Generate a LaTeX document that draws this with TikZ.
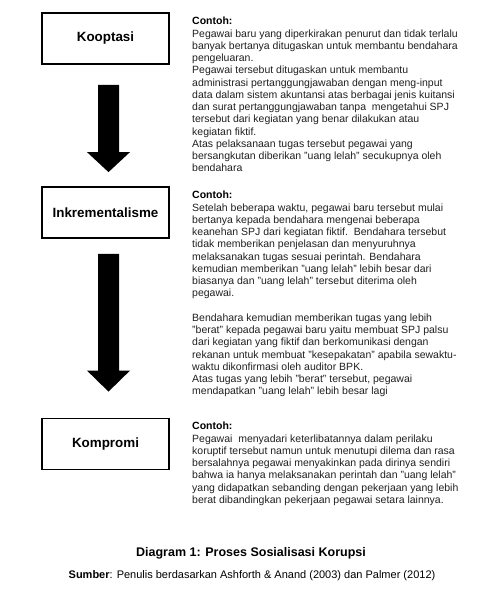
\documentclass[tikz,border=0pt]{standalone}
\usepackage{fontspec}
\setmainfont{Liberation Sans}
\usetikzlibrary{calc}
\begin{document}
\begin{tikzpicture}[x=1pt,y=1pt,
  stage/.style={draw=black, line width=1.8pt, minimum width=127pt, minimum height=51pt,
    inner sep=0pt, font=\fontsize{13.4}{16}\selectfont\bfseries},
  desc/.style={anchor=north west, align=left, inner sep=0pt,
    font=\fontsize{10.5}{12.25}\selectfont, text=black!87},
  bigarrow/.style={fill=black}]
\useasboundingbox (0,0) rectangle (497,-594);
\fill[white] (0,0) rectangle (497,-594);

\node[stage] (koop) at (105.5,-38.5) {Kooptasi};
\node[stage] (inkr) at (105.5,-212.5) {Inkrementalisme};
\node[stage] (komp) at (105.5,-444) {Kompromi};

% arrow 1
\coordinate (a1top) at ($(koop.south)+(3,-20)$);
\coordinate (a1tip) at ($(inkr.north)+(3,14)$);
\fill[bigarrow] ($(a1top)+(-10.5,0)$) -- ($(a1tip)+(-10.5,20)$) -- ($(a1tip)+(-21.5,20)$)
  -- (a1tip) -- ($(a1tip)+(21.5,20)$) -- ($(a1tip)+(10.5,20)$) -- ($(a1top)+(10.5,0)$) -- cycle;
% arrow 2
\coordinate (a2top) at ($(inkr.south)+(3,-15)$);
\coordinate (a2tip) at ($(komp.north)+(3,26)$);
\fill[bigarrow] ($(a2top)+(-10.5,0)$) -- ($(a2tip)+(-10.5,21)$) -- ($(a2tip)+(-21.5,21)$)
  -- (a2tip) -- ($(a2tip)+(21.5,21)$) -- ($(a2tip)+(10.5,21)$) -- ($(a2top)+(10.5,0)$) -- cycle;

\node[desc] (t1) at (192,-17) {\textbf{\color{black}Contoh:}\\
Pegawai baru yang diperkirakan penurut dan tidak terlalu\\
banyak bertanya ditugaskan untuk membantu bendahara\\
pengeluaran.\\
Pegawai tersebut ditugaskan untuk membantu\\
administrasi pertanggungjawaban dengan meng-input\\
data dalam sistem akuntansi atas berbagai jenis kuitansi\\
dan surat pertanggungjawaban tanpa\ \ mengetahui SPJ\\
tersebut dari kegiatan yang benar dilakukan atau\\
kegiatan fiktif.\\
Atas pelaksanaan tugas tersebut pegawai yang\\
bersangkutan diberikan "uang lelah" secukupnya oleh\\
bendahara};

\node[desc] (t2) at (192,-191) {\textbf{\color{black}Contoh:}\\
Setelah beberapa waktu, pegawai baru tersebut mulai\\
bertanya kepada bendahara mengenai beberapa\\
keanehan SPJ dari kegiatan fiktif.\ \ Bendahara tersebut\\
tidak memberikan penjelasan dan menyuruhnya\\
melaksanakan tugas sesuai perintah. Bendahara\\
kemudian memberikan "uang lelah" lebih besar dari\\
biasanya dan "uang lelah" tersebut diterima oleh\\
pegawai.\\
\mbox{}\\
Bendahara kemudian memberikan tugas yang lebih\\
"berat" kepada pegawai baru yaitu membuat SPJ palsu\\
dari kegiatan yang fiktif dan berkomunikasi dengan\\
rekanan untuk membuat "kesepakatan" apabila sewaktu-\\
waktu dikonfirmasi oleh auditor BPK.\\
Atas tugas yang lebih "berat" tersebut, pegawai\\
mendapatkan "uang lelah" lebih besar lagi};

\node[desc] (t3) at (192,-422) {\textbf{\color{black}Contoh:}\\
Pegawai\ \ menyadari keterlibatannya dalam perilaku\\
koruptif tersebut namun untuk menutupi dilema dan rasa\\
bersalahnya pegawai menyakinkan pada dirinya sendiri\\
bahwa ia hanya melaksanakan perintah dan "uang lelah"\\
yang didapatkan sebanding dengan pekerjaan yang lebih\\
berat dibandingkan pekerjaan pegawai setara lainnya.};

\node[font=\fontsize{12.5}{15}\selectfont\bfseries] (title) at (251,-553)
  {Diagram 1: Proses Sosialisasi Korupsi};
\node[font=\fontsize{11}{13}\selectfont] (src) at (252,-576)
  {\textbf{Sumber}: Penulis berdasarkan Ashforth \& Anand (2003) dan Palmer (2012)};
\end{tikzpicture}
\end{document}
